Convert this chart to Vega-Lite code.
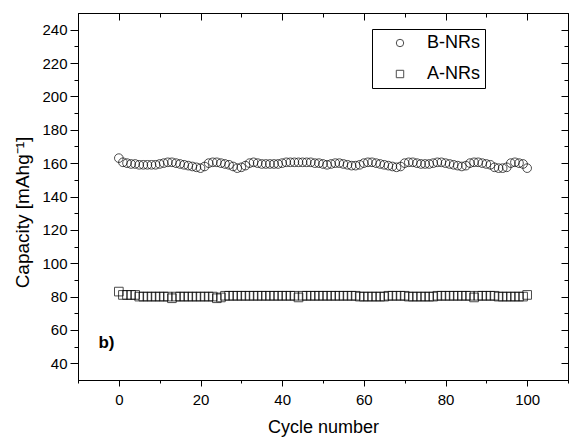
{
  "$schema": "https://vega.github.io/schema/vega-lite/v6.json",
  "width": 569,
  "height": 440,
  "autosize": {"type": "fit", "contains": "padding"},
  "padding": {"left": 13, "top": 12, "right": 0, "bottom": 4},
  "config": {
    "font": "Liberation Sans",
    "view": {"stroke": "black", "strokeWidth": 1},
    "axis": {
      "domainColor": "black",
      "tickColor": "black",
      "labelColor": "black",
      "titleColor": "black",
      "grid": false,
      "labelFontSize": 15,
      "titleFontSize": 18,
      "titleFontWeight": "normal",
      "labelFont": "Liberation Sans",
      "titleFont": "Liberation Sans"
    }
  },
  "datasets": {
    "cap": [
      {"cycle":0,"series":"B-NRs","capacity":163},{"cycle":1,"series":"B-NRs","capacity":160.5},{"cycle":2,"series":"B-NRs","capacity":160},{"cycle":3,"series":"B-NRs","capacity":159.5},{"cycle":4,"series":"B-NRs","capacity":159.5},{"cycle":5,"series":"B-NRs","capacity":159},{"cycle":6,"series":"B-NRs","capacity":159},{"cycle":7,"series":"B-NRs","capacity":159},{"cycle":8,"series":"B-NRs","capacity":159},{"cycle":9,"series":"B-NRs","capacity":159},
      {"cycle":10,"series":"B-NRs","capacity":159.5},{"cycle":11,"series":"B-NRs","capacity":160},{"cycle":12,"series":"B-NRs","capacity":160.5},{"cycle":13,"series":"B-NRs","capacity":160.5},{"cycle":14,"series":"B-NRs","capacity":160},{"cycle":15,"series":"B-NRs","capacity":159.5},{"cycle":16,"series":"B-NRs","capacity":159},{"cycle":17,"series":"B-NRs","capacity":158.5},{"cycle":18,"series":"B-NRs","capacity":158},{"cycle":19,"series":"B-NRs","capacity":157.5},
      {"cycle":20,"series":"B-NRs","capacity":157},{"cycle":21,"series":"B-NRs","capacity":158},{"cycle":22,"series":"B-NRs","capacity":160},{"cycle":23,"series":"B-NRs","capacity":160.5},{"cycle":24,"series":"B-NRs","capacity":160.5},{"cycle":25,"series":"B-NRs","capacity":160},{"cycle":26,"series":"B-NRs","capacity":159.5},{"cycle":27,"series":"B-NRs","capacity":159},{"cycle":28,"series":"B-NRs","capacity":158},{"cycle":29,"series":"B-NRs","capacity":157},
      {"cycle":30,"series":"B-NRs","capacity":157.5},{"cycle":31,"series":"B-NRs","capacity":158.5},{"cycle":32,"series":"B-NRs","capacity":160},{"cycle":33,"series":"B-NRs","capacity":160.5},{"cycle":34,"series":"B-NRs","capacity":160},{"cycle":35,"series":"B-NRs","capacity":159.5},{"cycle":36,"series":"B-NRs","capacity":159.5},{"cycle":37,"series":"B-NRs","capacity":159.5},{"cycle":38,"series":"B-NRs","capacity":159.5},{"cycle":39,"series":"B-NRs","capacity":159.5},
      {"cycle":40,"series":"B-NRs","capacity":160},{"cycle":41,"series":"B-NRs","capacity":160.5},{"cycle":42,"series":"B-NRs","capacity":160.5},{"cycle":43,"series":"B-NRs","capacity":160.5},{"cycle":44,"series":"B-NRs","capacity":160.5},{"cycle":45,"series":"B-NRs","capacity":160.5},{"cycle":46,"series":"B-NRs","capacity":160.5},{"cycle":47,"series":"B-NRs","capacity":160.5},{"cycle":48,"series":"B-NRs","capacity":160},{"cycle":49,"series":"B-NRs","capacity":160},
      {"cycle":50,"series":"B-NRs","capacity":159.5},{"cycle":51,"series":"B-NRs","capacity":159},{"cycle":52,"series":"B-NRs","capacity":159.5},{"cycle":53,"series":"B-NRs","capacity":160},{"cycle":54,"series":"B-NRs","capacity":160},{"cycle":55,"series":"B-NRs","capacity":159.5},{"cycle":56,"series":"B-NRs","capacity":159},{"cycle":57,"series":"B-NRs","capacity":158.5},{"cycle":58,"series":"B-NRs","capacity":158.5},{"cycle":59,"series":"B-NRs","capacity":159},
      {"cycle":60,"series":"B-NRs","capacity":160},{"cycle":61,"series":"B-NRs","capacity":160.5},{"cycle":62,"series":"B-NRs","capacity":160.5},{"cycle":63,"series":"B-NRs","capacity":160},{"cycle":64,"series":"B-NRs","capacity":159.5},{"cycle":65,"series":"B-NRs","capacity":159},{"cycle":66,"series":"B-NRs","capacity":158.5},{"cycle":67,"series":"B-NRs","capacity":158},{"cycle":68,"series":"B-NRs","capacity":157.5},{"cycle":69,"series":"B-NRs","capacity":158},
      {"cycle":70,"series":"B-NRs","capacity":160},{"cycle":71,"series":"B-NRs","capacity":160.5},{"cycle":72,"series":"B-NRs","capacity":160.5},{"cycle":73,"series":"B-NRs","capacity":160},{"cycle":74,"series":"B-NRs","capacity":159.5},{"cycle":75,"series":"B-NRs","capacity":159.5},{"cycle":76,"series":"B-NRs","capacity":159.5},{"cycle":77,"series":"B-NRs","capacity":160},{"cycle":78,"series":"B-NRs","capacity":160.5},{"cycle":79,"series":"B-NRs","capacity":160.5},
      {"cycle":80,"series":"B-NRs","capacity":160},{"cycle":81,"series":"B-NRs","capacity":159.5},{"cycle":82,"series":"B-NRs","capacity":159},{"cycle":83,"series":"B-NRs","capacity":158.5},{"cycle":84,"series":"B-NRs","capacity":158},{"cycle":85,"series":"B-NRs","capacity":158.5},{"cycle":86,"series":"B-NRs","capacity":160},{"cycle":87,"series":"B-NRs","capacity":160.5},{"cycle":88,"series":"B-NRs","capacity":160.5},{"cycle":89,"series":"B-NRs","capacity":160},
      {"cycle":90,"series":"B-NRs","capacity":159.5},{"cycle":91,"series":"B-NRs","capacity":159},{"cycle":92,"series":"B-NRs","capacity":157.5},{"cycle":93,"series":"B-NRs","capacity":157},{"cycle":94,"series":"B-NRs","capacity":157},{"cycle":95,"series":"B-NRs","capacity":157.5},{"cycle":96,"series":"B-NRs","capacity":160},{"cycle":97,"series":"B-NRs","capacity":160.5},{"cycle":98,"series":"B-NRs","capacity":160},{"cycle":99,"series":"B-NRs","capacity":159.5},
      {"cycle":100,"series":"B-NRs","capacity":157},
      {"cycle":0,"series":"A-NRs","capacity":83},{"cycle":1,"series":"A-NRs","capacity":81},{"cycle":2,"series":"A-NRs","capacity":81},{"cycle":3,"series":"A-NRs","capacity":81},{"cycle":4,"series":"A-NRs","capacity":81},{"cycle":5,"series":"A-NRs","capacity":80},{"cycle":6,"series":"A-NRs","capacity":80},{"cycle":7,"series":"A-NRs","capacity":80},{"cycle":8,"series":"A-NRs","capacity":80},{"cycle":9,"series":"A-NRs","capacity":80},
      {"cycle":10,"series":"A-NRs","capacity":80},{"cycle":11,"series":"A-NRs","capacity":80},{"cycle":12,"series":"A-NRs","capacity":80},{"cycle":13,"series":"A-NRs","capacity":79},{"cycle":14,"series":"A-NRs","capacity":80},{"cycle":15,"series":"A-NRs","capacity":80},{"cycle":16,"series":"A-NRs","capacity":80},{"cycle":17,"series":"A-NRs","capacity":80},{"cycle":18,"series":"A-NRs","capacity":80},{"cycle":19,"series":"A-NRs","capacity":80},
      {"cycle":20,"series":"A-NRs","capacity":80},{"cycle":21,"series":"A-NRs","capacity":80},{"cycle":22,"series":"A-NRs","capacity":80},{"cycle":23,"series":"A-NRs","capacity":80},{"cycle":24,"series":"A-NRs","capacity":79},{"cycle":25,"series":"A-NRs","capacity":79.5},{"cycle":26,"series":"A-NRs","capacity":80.5},{"cycle":27,"series":"A-NRs","capacity":80.5},{"cycle":28,"series":"A-NRs","capacity":80.5},{"cycle":29,"series":"A-NRs","capacity":80.5},
      {"cycle":30,"series":"A-NRs","capacity":80.5},{"cycle":31,"series":"A-NRs","capacity":80.5},{"cycle":32,"series":"A-NRs","capacity":80.5},{"cycle":33,"series":"A-NRs","capacity":80.5},{"cycle":34,"series":"A-NRs","capacity":80.5},{"cycle":35,"series":"A-NRs","capacity":80.5},{"cycle":36,"series":"A-NRs","capacity":80.5},{"cycle":37,"series":"A-NRs","capacity":80.5},{"cycle":38,"series":"A-NRs","capacity":80.5},{"cycle":39,"series":"A-NRs","capacity":80.5},
      {"cycle":40,"series":"A-NRs","capacity":80.5},{"cycle":41,"series":"A-NRs","capacity":80.5},{"cycle":42,"series":"A-NRs","capacity":80.5},{"cycle":43,"series":"A-NRs","capacity":80.5},{"cycle":44,"series":"A-NRs","capacity":79.5},{"cycle":45,"series":"A-NRs","capacity":80.5},{"cycle":46,"series":"A-NRs","capacity":80.5},{"cycle":47,"series":"A-NRs","capacity":80.5},{"cycle":48,"series":"A-NRs","capacity":80.5},{"cycle":49,"series":"A-NRs","capacity":80.5},
      {"cycle":50,"series":"A-NRs","capacity":80.5},{"cycle":51,"series":"A-NRs","capacity":80.5},{"cycle":52,"series":"A-NRs","capacity":80.5},{"cycle":53,"series":"A-NRs","capacity":80.5},{"cycle":54,"series":"A-NRs","capacity":80.5},{"cycle":55,"series":"A-NRs","capacity":80.5},{"cycle":56,"series":"A-NRs","capacity":80.5},{"cycle":57,"series":"A-NRs","capacity":80.5},{"cycle":58,"series":"A-NRs","capacity":80.5},{"cycle":59,"series":"A-NRs","capacity":80},
      {"cycle":60,"series":"A-NRs","capacity":80},{"cycle":61,"series":"A-NRs","capacity":80},{"cycle":62,"series":"A-NRs","capacity":80},{"cycle":63,"series":"A-NRs","capacity":80},{"cycle":64,"series":"A-NRs","capacity":80},{"cycle":65,"series":"A-NRs","capacity":80},{"cycle":66,"series":"A-NRs","capacity":80.5},{"cycle":67,"series":"A-NRs","capacity":80.5},{"cycle":68,"series":"A-NRs","capacity":80.5},{"cycle":69,"series":"A-NRs","capacity":80.5},
      {"cycle":70,"series":"A-NRs","capacity":80.5},{"cycle":71,"series":"A-NRs","capacity":80},{"cycle":72,"series":"A-NRs","capacity":80},{"cycle":73,"series":"A-NRs","capacity":80},{"cycle":74,"series":"A-NRs","capacity":80},{"cycle":75,"series":"A-NRs","capacity":80},{"cycle":76,"series":"A-NRs","capacity":80},{"cycle":77,"series":"A-NRs","capacity":80},{"cycle":78,"series":"A-NRs","capacity":80.5},{"cycle":79,"series":"A-NRs","capacity":80.5},
      {"cycle":80,"series":"A-NRs","capacity":80.5},{"cycle":81,"series":"A-NRs","capacity":80.5},{"cycle":82,"series":"A-NRs","capacity":80.5},{"cycle":83,"series":"A-NRs","capacity":80.5},{"cycle":84,"series":"A-NRs","capacity":80.5},{"cycle":85,"series":"A-NRs","capacity":80.5},{"cycle":86,"series":"A-NRs","capacity":80.5},{"cycle":87,"series":"A-NRs","capacity":79.5},{"cycle":88,"series":"A-NRs","capacity":80.5},{"cycle":89,"series":"A-NRs","capacity":80.5},
      {"cycle":90,"series":"A-NRs","capacity":80.5},{"cycle":91,"series":"A-NRs","capacity":80.5},{"cycle":92,"series":"A-NRs","capacity":80.5},{"cycle":93,"series":"A-NRs","capacity":80},{"cycle":94,"series":"A-NRs","capacity":80},{"cycle":95,"series":"A-NRs","capacity":80},{"cycle":96,"series":"A-NRs","capacity":80},{"cycle":97,"series":"A-NRs","capacity":80},{"cycle":98,"series":"A-NRs","capacity":80},{"cycle":99,"series":"A-NRs","capacity":80},
      {"cycle":100,"series":"A-NRs","capacity":81}
    ]
  },
  "resolve": {"axis": {"x": "independent", "y": "independent"}},
  "layer": [
    {
      "data": {"name": "cap"},
      "mark": {"type": "point", "opacity": 0},
      "encoding": {
        "x": {
          "field": "cycle", "type": "quantitative",
          "scale": {"domain": [-10, 110], "nice": false, "zero": false},
          "axis": {
            "orient": "top", "title": null, "labels": false, "domainWidth": 1,
            "values": [-10, 0, 10, 20, 30, 40, 50, 60, 70, 80, 90, 100, 110],
            "tickSize": {"condition": {"test": "datum.value % 20 === 0", "value": -7}, "value": -4}
          }
        },
        "y": {
          "field": "capacity", "type": "quantitative",
          "scale": {"domain": [30, 250], "nice": false, "zero": false},
          "axis": {
            "orient": "right", "title": null, "labels": false, "domainWidth": 1,
            "values": [40, 50, 60, 70, 80, 90, 100, 110, 120, 130, 140, 150, 160, 170, 180, 190, 200, 210, 220, 230, 240],
            "tickSize": {"condition": {"test": "datum.value % 20 === 0", "value": -7}, "value": -4}
          }
        }
      }
    },
    {
      "data": {"name": "cap"},
      "mark": {"type": "point", "filled": false, "strokeWidth": 1, "size": 75, "color": "black"},
      "encoding": {
        "x": {
          "field": "cycle", "type": "quantitative",
          "axis": {
            "orient": "bottom", "title": "Cycle number", "titlePadding": 11,
            "values": [-10, 0, 10, 20, 30, 40, 50, 60, 70, 80, 90, 100, 110],
            "labelExpr": "datum.value % 20 === 0 ? datum.label : ''",
            "tickSize": {"condition": {"test": "datum.value % 20 === 0", "value": 6}, "value": 3},
            "labelPadding": 6
          }
        },
        "y": {
          "field": "capacity", "type": "quantitative",
          "axis": {
            "orient": "left", "title": "Capacity [mAhg⁻¹]", "titlePadding": 9, "titleFontSize": 19, "titleY": 199,
            "values": [40, 50, 60, 70, 80, 90, 100, 110, 120, 130, 140, 150, 160, 170, 180, 190, 200, 210, 220, 230, 240],
            "labelExpr": "datum.value % 20 === 0 ? datum.label : ''",
            "tickSize": {"condition": {"test": "datum.value % 20 === 0", "value": 8}, "value": 4},
            "labelPadding": 3
          }
        },
        "shape": {
          "field": "series", "type": "nominal",
          "scale": {"domain": ["B-NRs", "A-NRs"], "range": ["circle", "square"]},
          "legend": {
            "title": null, "orient": "none", "legendX": 294, "legendY": 16,
            "strokeColor": "black", "padding": 5, "symbolOffset": 14,
            "labelFontSize": 18, "labelColor": "black", "labelOffset": 18,
            "symbolSize": 55, "symbolStrokeColor": "black", "symbolFillColor": "transparent",
            "symbolStrokeWidth": 1, "rowPadding": 13
          }
        }
      }
    },
    {
      "data": {"values": [{"cycle": -5, "capacity": 52, "note": "b)"}]},
      "mark": {"type": "text", "align": "left", "baseline": "middle", "fontWeight": "bold", "fontSize": 17, "color": "black", "font": "Liberation Sans"},
      "encoding": {
        "x": {"field": "cycle", "type": "quantitative", "axis": null},
        "y": {"field": "capacity", "type": "quantitative", "axis": null},
        "text": {"field": "note"}
      }
    }
  ]
}
